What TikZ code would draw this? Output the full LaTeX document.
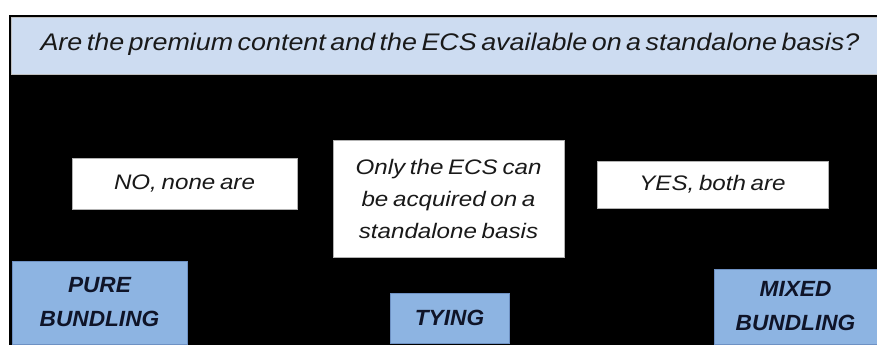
\documentclass[tikz,border=0pt]{standalone}
\usepackage{fontspec}
\setmainfont{Liberation Sans}
\newfontfamily\titlefont{Liberation Sans}[FakeStretch=1.12,WordSpace=0.6]
\newfontfamily\txtfont{Liberation Sans}[FakeStretch=1.15,WordSpace=0.7]
\newfontfamily\catfont{Liberation Sans}[FakeStretch=1.03]
\definecolor{titlebg}{RGB}{205,220,241}
\definecolor{catbg}{RGB}{141,180,226}
\definecolor{catborder}{RGB}{110,145,195}
\definecolor{txtcol}{RGB}{25,25,25}
\definecolor{cattxt}{RGB}{15,20,40}
\tikzset{
  answer/.style={rectangle, fill=white, draw=gray!60, line width=0.6pt, inner sep=0pt,
    align=center, text=txtcol, font=\txtfont\itshape\fontsize{21}{32}\selectfont},
  category/.style={rectangle, fill=catbg, draw=catborder, line width=0.6pt, inner sep=0pt,
    align=center, text=cattxt, font=\catfont\bfseries\itshape\fontsize{22}{34}\selectfont},
}
\begin{document}
\begin{tikzpicture}[x=1pt,y=-1pt]
\useasboundingbox (0,0) rectangle (877,347);
\fill[white] (0,0) rectangle (877,347);
\node[rectangle, fill=black, inner sep=0pt, minimum width=868pt, minimum height=330pt] (bg) at (443,180) {};
\node[rectangle, fill=titlebg, draw=gray!50, line width=0.4pt, inner sep=0pt, minimum width=866pt, minimum height=57pt] (bar) at (444,45.5) {};
\node[text=txtcol, font=\titlefont\itshape\fontsize{24}{28}\selectfont, inner sep=0pt] (q) at (450,44) {Are the premium content and the ECS available on a standalone basis?};
\node[answer, minimum width=225pt, minimum height=51pt] (no) at (184.5,183.5) {NO, none are};
\node[answer, minimum width=231pt, minimum height=117pt] (only) at (448.5,198.5) {Only the ECS can\\be acquired on a\\standalone basis};
\node[answer, minimum width=231pt, minimum height=47pt] (yes) at (712.5,184.5) {YES, both are};
\node[category, minimum width=175pt, minimum height=83pt] (pure) at (99.5,302.5) {PURE\\BUNDLING};
\node[category, minimum width=119pt, minimum height=50pt] (tying) at (449.5,318) {TYING};
\node[category, minimum width=163pt, minimum height=75pt] (mixed) at (795.5,306.5) {MIXED\\BUNDLING};
\end{tikzpicture}
\end{document}
